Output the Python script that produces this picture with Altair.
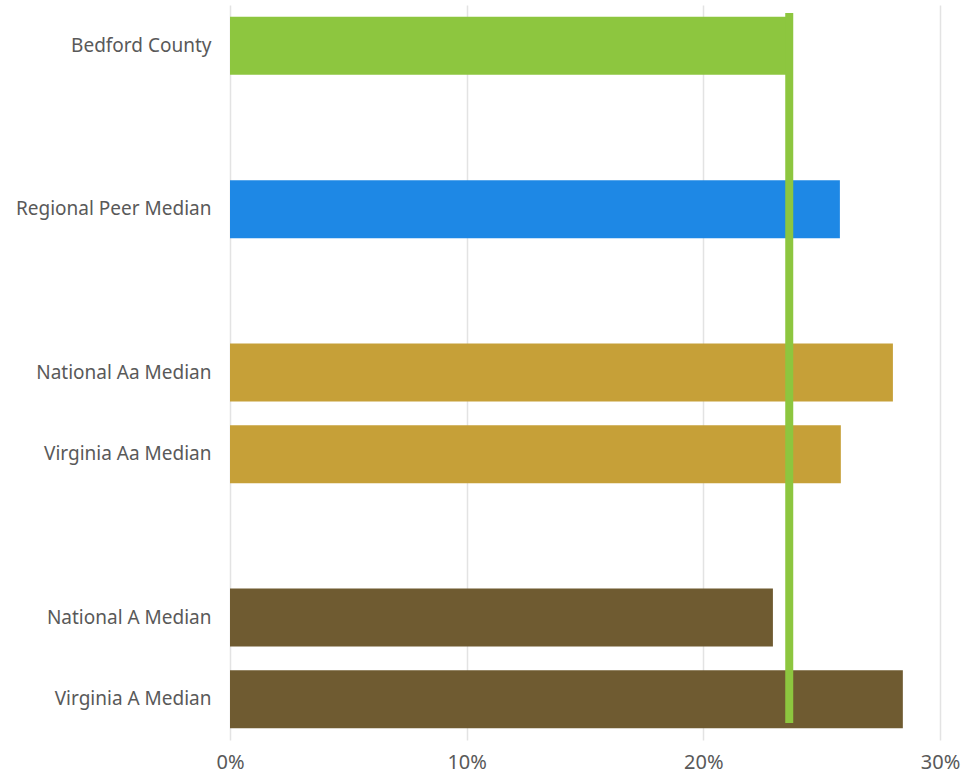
import altair as alt
import pandas as pd

categories = ["Bedford County", "Regional Peer Median", "National Aa Median",
              "Virginia Aa Median", "National A Median", "Virginia A Median"]
values = [0.2350, 0.2577, 0.2801, 0.2581, 0.2294, 0.2843]
bar_colors = ["#8DC63F", "#1E88E5", "#C6A038", "#C6A038", "#6F5B31", "#6F5B31"]
row_order = ["Bedford County", "gap1", "Regional Peer Median", "gap2",
             "National Aa Median", "Virginia Aa Median", "gap3",
             "National A Median", "Virginia A Median"]
bedford_line = 0.2363
x_ticks = [0, 0.1, 0.2, 0.3]

FONT = "Noto Sans"
TEXT = "#595959"

df = pd.DataFrame({"cat": categories, "val": values, "color": bar_colors})

bars = alt.Chart(df).mark_bar().encode(
    y=alt.Y("cat:N", sort=row_order,
            scale=alt.Scale(domain=row_order, paddingInner=0.29, paddingOuter=0.145),
            axis=alt.Axis(title=None, ticks=False, domain=False, grid=False,
                          labelFontSize=19, labelColor=TEXT, labelFont=FONT,
                          labelPadding=19, labelLimit=300,
                          labelExpr="indexof(datum.value, 'gap') == 0 ? '' : datum.value")),
    x=alt.X("val:Q", scale=alt.Scale(domain=[0, 0.3], nice=False),
            axis=alt.Axis(title=None, format=".0%", values=x_ticks, ticks=False,
                          domain=False, grid=True, gridColor="#E3E3E3", gridWidth=1.5,
                          labelFontSize=20, labelColor=TEXT, labelFont=FONT,
                          labelPadding=12, labelFlush=False)),
    color=alt.Color("color:N", scale=None),
)

rule = alt.Chart(pd.DataFrame({"v": [bedford_line]})).mark_rule(
    strokeWidth=8, color="#8DC63F"
).encode(
    x="v:Q",
    y=alt.value(8),
    y2=alt.value(718),
)

chart = alt.layer(bars, rule).properties(
    width=710, height=735,
    background="white",
    autosize=alt.AutoSizeParams(type="none"),
    padding={"left": 230, "top": 5, "right": 22, "bottom": 38},
).configure_view(stroke=None)

chart.save("out.html", embed_options={"renderer": "svg", "actions": False})
